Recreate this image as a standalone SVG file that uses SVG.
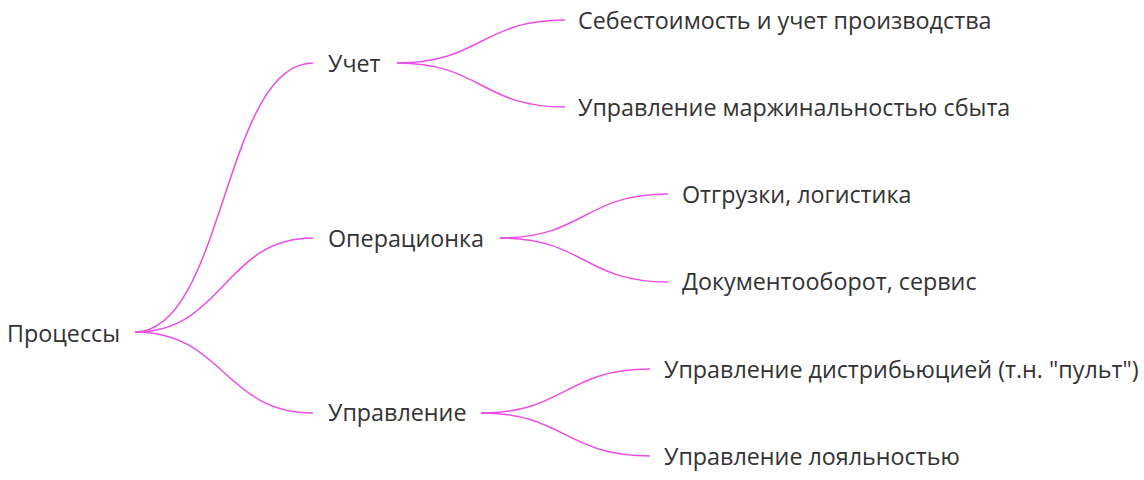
<svg xmlns="http://www.w3.org/2000/svg" width="1144" height="480" viewBox="0 0 1144 480">
<style>
  .lbl { font-family: "Open Sans", "Noto Sans", "DejaVu Sans", sans-serif; font-size: 23.3px; fill: #333333; }
  .link { fill: none; stroke: #e94fe3; stroke-width: 1.5; }
</style>
<rect width="1144" height="480" fill="#ffffff"/>
<g id="connectors">
  <path class="link" d="M135,332 C224,332 224,63 313,63"/>
  <path class="link" d="M135,332 C224,332 224,238 313,238"/>
  <path class="link" d="M135,332 C224,332 224,413 313,413"/>
  <path class="link" d="M397,63 C481,63 481,20 565,20"/>
  <path class="link" d="M397,63 C481,63 481,107 565,107"/>
  <path class="link" d="M500,238 C584,238 584,194 668,194"/>
  <path class="link" d="M500,238 C584,238 584,282 668,282"/>
  <path class="link" d="M481,413 C565,413 565,369 650,369"/>
  <path class="link" d="M481,413 C565,413 565,456 650,456"/>
</g>
<g id="node-root"><text class="lbl" x="7" y="342">Процессы</text></g>
<g id="node-uchet"><text class="lbl" x="328" y="72">Учет</text></g>
<g id="node-oper"><text class="lbl" x="328" y="247">Операционка</text></g>
<g id="node-upr"><text class="lbl" x="328" y="421">Управление</text></g>
<g id="node-sebest"><text class="lbl" x="578" y="29">Себестоимость и учет производства</text></g>
<g id="node-marzh"><text class="lbl" x="578" y="116">Управление маржинальностью сбыта</text></g>
<g id="node-otgr"><text class="lbl" x="682" y="203">Отгрузки, логистика</text></g>
<g id="node-doc"><text class="lbl" x="682" y="290">Документооборот, сервис</text></g>
<g id="node-distr"><text class="lbl" x="664" y="378">Управление дистрибьюцией (т.н. "пульт")</text></g>
<g id="node-loyal"><text class="lbl" x="664" y="465">Управление лояльностью</text></g>
</svg>
